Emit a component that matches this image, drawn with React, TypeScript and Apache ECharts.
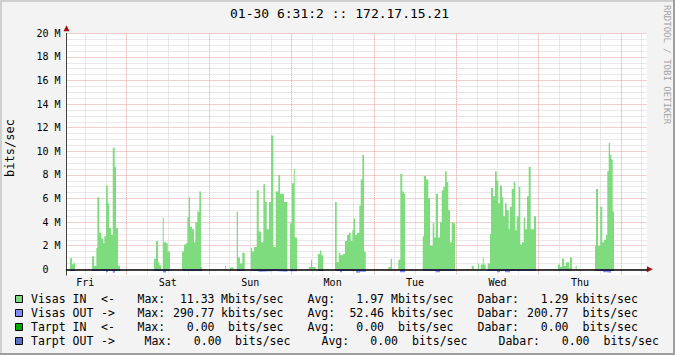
import { useEffect, useRef } from 'react';
import * as echarts from 'echarts';

const MONO = '"DejaVu Sans Mono", monospace';

const titleText = '01-30 6:31:2 :: 172.17.15.21';
const sideText = 'RRDTOOL / TOBI OETIKER';
const yAxisTitle = 'bits/sec';

// time axis in hours since Fri 00:00
const xStart = 6.52;
const xEnd = 175.5;
const dayNames = ['Fri', 'Sat', 'Sun', 'Mon', 'Tue', 'Wed', 'Thu'];
const dayLabelHours = [12, 36, 60, 84, 108, 132, 156];
const vGridHours = [12, 18, 24, 30, 36, 42, 48, 54, 60, 66, 72, 78, 84, 90, 96, 102, 108, 114, 120, 126, 132, 138, 144, 150, 156, 162, 168, 174];

// value axis in Mbits/sec
const yMin = -0.5;
const yMax = 20;
const yLabelValues = [0, 2, 4, 6, 8, 10, 12, 14, 16, 18, 20];
const yGridValues = [0, 0.5, 1, 1.5, 2, 2.5, 3, 3.5, 4, 4.5, 5, 5.5, 6, 6.5, 7, 7.5, 8, 8.5, 9, 9.5, 10, 10.5, 11, 11.5, 12, 12.5, 13, 13.5, 14, 14.5, 15, 15.5, 16, 16.5, 17, 17.5, 18, 18.5, 19, 19.5, 20];

// Visas IN  [hour, Mbit/s] (step start points)
const friIn: [number, number][] = [
  [7.55, 0.93], [8.13, 0.42], [8.72, 0.55], [9.01, 0],
  [13.96, 1.1], [14.54, 0.3], [15.21, 1.8], [15.5, 6.1], [16.08, 3.1], [16.66, 2.6], [17.25, 2.2], [17.54, 2.8],
  [18.03, 7.1], [18.53, 5.6], [18.91, 3.5], [19.49, 2.9], [19.98, 10.3], [20.56, 8.7], [20.94, 3.5], [21.53, 0.3], [22.11, 0],
];
const satIn: [number, number][] = [
  [32.01, 0.9], [32.59, 2.4], [33.17, 0.6], [33.55, 0.35], [34.04, 0], [34.54, 4.4], [34.83, 2.3], [35.5, 2.2], [35.99, 1.5], [36.66, 0],
  [40.16, 1.5], [40.74, 2.1], [41.32, 2.2], [41.7, 4.4], [42.11, 6.1], [42.49, 3.6], [43.07, 3.4], [43.65, 2.3], [44.03, 4.0],
  [44.61, 4.9], [45.19, 6.6], [45.69, 0.2], [45.98, 0],
];
const sunIn: [number, number][] = [
  [52.68, 0.3], [52.97, 0], [54.13, 0.15], [55.15, 0],
  [56.08, 4.9], [56.46, 1.0], [57.04, 0.5], [57.71, 1.4], [58.41, 0],
  [60.16, 1.8], [60.54, 1.5], [61.12, 1.9], [61.9, 6.7], [62.49, 3.2], [63.16, 2.3], [63.83, 7.2], [64.32, 5.7], [64.82, 3.4],
  [65.48, 5.7], [66.07, 11.33], [66.74, 1.9], [67.44, 6.6], [68.19, 8.0], [68.69, 6.4], [69.18, 6.4], [69.85, 5.7], [70.81, 0],
  [71.6, 3.9], [72.18, 7.3], [72.68, 8.5], [72.97, 2.7], [73.64, 0],
];
const monIn: [number, number][] = [
  [77.13, 0.2], [77.71, 0.8], [78.0, 0.2], [79.08, 0],
  [79.75, 1.3], [80.33, 1.6], [80.71, 1.2], [81.29, 0],
  [84.7, 5.7], [85.19, 0.6], [85.78, 1.4], [86.24, 1.2], [86.94, 1.3], [87.61, 2.4], [88.19, 2.9], [88.77, 3.1], [89.27, 2.4],
  [89.74, 3.3], [90.08, 4.3], [90.52, 2.9], [91.1, 3.1], [91.77, 5.4], [92.18, 7.6], [92.65, 9.7], [93.14, 1.5], [93.64, 0],
];
const tueIn: [number, number][] = [
  [100.22, 0.2], [100.91, 0.9], [101.29, 0],
  [103.13, 0.8], [103.71, 8.1], [104.29, 6.6], [104.7, 6.4], [105.08, 0],
  [110.23, 2.8], [110.61, 7.9], [111.19, 7.6], [111.86, 6.0], [112.36, 2.0], [113.14, 3.9], [113.61, 2.7], [114.1, 6.4],
  [114.68, 2.7], [115.27, 4.0], [115.76, 6.7], [116.23, 7.0], [116.72, 8.3], [117.22, 7.4], [117.68, 5.0], [118.18, 2.3],
  [118.67, 4.0], [119.14, 3.9], [119.63, 0],
];
const wedIn: [number, number][] = [
  [124.49, 0.3], [125.08, 0], [126.33, 0.5], [126.62, 0], [127.11, 0.4], [127.7, 1.0], [127.99, 0.4], [128.57, 0], [129.15, 0.5],
  [129.82, 3.0], [130.11, 6.9], [130.7, 6.2], [131.28, 8.3], [131.77, 7.5], [132.24, 5.6], [132.73, 7.1], [133.32, 6.1],
  [133.69, 4.5], [134.19, 5.6], [134.68, 5.0], [135.27, 3.4], [135.64, 5.3], [136.14, 6.8], [136.72, 7.4], [137.19, 3.3],
  [137.6, 4.5], [138.18, 7.0], [138.64, 2.1], [139.14, 2.3], [139.63, 4.4], [140.1, 3.4], [140.59, 6.2], [141.09, 8.7],
  [141.67, 3.4], [142.14, 3.4], [142.63, 4.5], [143.21, 0],
];
const thuIn: [number, number][] = [
  [149.62, 0.4], [150.2, 0.2], [150.78, 0.9], [151.37, 0.3], [151.95, 0.6], [152.82, 0.1], [153.11, 1.0], [153.69, 0],
  [154.77, 0.3], [155.06, 0],
  [160.39, 2.0], [160.68, 6.8], [161.26, 2.0], [161.93, 5.3], [162.51, 2.3], [163.01, 2.5], [163.59, 2.9], [163.97, 8.3],
  [164.38, 10.7], [164.76, 9.7], [165.14, 9.3], [165.54, 4.9], [165.92, 0],
];

// Visas OUT [hour, Mbit/s] drawn below zero
const friOut: [number, number][] = [
  [7.55, -0.15], [9.01, 0], [13.96, -0.15], [18.03, -0.25], [18.61, -0.15], [19.98, -0.29], [20.65, -0.15], [22.11, 0],
];
const satOut: [number, number][] = [
  [32.01, -0.15], [34.04, -0.08], [34.63, -0.28], [35.5, -0.15], [36.66, 0], [40.16, -0.15], [45.98, 0],
];
const sunOut: [number, number][] = [
  [56.08, -0.15], [58.5, 0], [60.16, -0.15], [61.9, -0.2], [62.86, -0.15], [67.23, -0.2], [70.81, 0], [71.6, -0.17], [73.64, 0],
];
const monOut: [number, number][] = [
  [79.75, -0.15], [81.29, 0], [84.7, -0.15], [86.15, -0.25], [86.74, -0.15], [90.81, -0.29], [91.98, -0.2], [93.72, 0],
];
const tueOut: [number, number][] = [
  [103.62, -0.25], [105.08, 0], [110.23, -0.15], [114.1, -0.25], [115.27, -0.15], [119.63, 0],
];
const wedOut: [number, number][] = [
  [129.15, -0.15], [131.86, -0.25], [132.73, -0.15], [134.19, -0.25], [135.64, -0.15], [143.21, 0],
];
const thuOut: [number, number][] = [
  [149.62, -0.08], [153.69, 0], [160.39, -0.15], [162.72, -0.25], [163.88, -0.29], [165.05, -0.15], [165.92, 0],
];

// legend texts
const legendNames = ['Visas IN', 'Visas OUT', 'Tarpt IN', 'Tarpt OUT'];
const legendArrows = ['<-', '->', '<-', '->'];
const legendColors = ['#7edb7e', '#7f8bff', '#00a800', '#5a72c8'];
const legendMax = ['11.33', '290.77', '0.00', '0.00'];
const legendMaxUnit = ['Mbits/sec', 'kbits/sec', ' bits/sec', ' bits/sec'];
const legendAvg = ['1.97', '52.46', '0.00', '0.00'];
const legendAvgUnit = ['Mbits/sec', 'kbits/sec', ' bits/sec', ' bits/sec'];
const legendCur = ['1.29', '200.77', '0.00', '0.00'];
const legendCurUnit = ['kbits/sec', ' bits/sec', ' bits/sec', ' bits/sec'];
const legendShift = [0, 0, 0, 7];

const GREEN = '#7edb7e';
const BLUE = '#7f8bff';
const MINOR = '#d2d2d2';
const MAJOR = '#e49c9c';
const ARROW = '#a01010';

export default function App() {
  const ref = useRef<HTMLDivElement>(null);

  useEffect(() => {
    document.body.style.margin = '0';
    const el = ref.current;
    if (!el) return;
    const chart = echarts.init(el, null, { renderer: 'svg' });

    const visasIn = [...friIn, ...satIn, ...sunIn, ...monIn, ...tueIn, ...wedIn, ...thuIn];
    const visasOut = [...friOut, ...satOut, ...sunOut, ...monOut, ...tueOut, ...wedOut, ...thuOut];

    const textStyle = (size: number, color = '#000') => ({ fontFamily: MONO, fontSize: size, fill: color });

    const graphic: any[] = [
      { type: 'rect', shape: { x: 0, y: 0, width: 675, height: 2 }, style: { fill: '#cfcfcf' }, silent: true },
      { type: 'rect', shape: { x: 0, y: 0, width: 2, height: 355 }, style: { fill: '#cfcfcf' }, silent: true },
      { type: 'rect', shape: { x: 0, y: 353, width: 675, height: 2 }, style: { fill: '#9e9e9e' }, silent: true },
      { type: 'rect', shape: { x: 673, y: 0, width: 2, height: 355 }, style: { fill: '#9e9e9e' }, silent: true },
      { type: 'text', x: 230, y: 13.5, silent: true, style: { ...textStyle(13), text: titleText, align: 'left', verticalAlign: 'middle' } },
      { type: 'text', x: 666.5, y: 5, rotation: -Math.PI / 2, silent: true, style: { ...textStyle(9, '#a4a4a4'), text: sideText, align: 'left', verticalAlign: 'middle' } },
      { type: 'text', x: 10, y: 148, rotation: Math.PI / 2, silent: true, style: { ...textStyle(12), text: yAxisTitle, align: 'center', verticalAlign: 'middle' } },
    ];

    const rowY = [299, 313, 327, 341];
    legendNames.forEach((name, i) => {
      const y = rowY[i];
      const s = legendShift[i];
      graphic.push({ type: 'rect', shape: { x: 15.5, y: y - 3.5, width: 7, height: 7 }, style: { fill: legendColors[i], stroke: '#000', lineWidth: 1 }, silent: true });
      const t = (text: string, x: number, align = 'left') => ({
        type: 'text', x, y, silent: true,
        style: { ...textStyle(11.5), text, align, verticalAlign: 'middle' },
      });
      const unit = (u: string, x: number) => (u.startsWith(' ') ? t(u.trim(), x + 7) : t(u, x));
      graphic.push(t(name, 31));
      graphic.push(t(legendArrows[i], 101));
      graphic.push(t('Max:', 137.5 + s));
      graphic.push(t(legendMax[i], 214.5 + s, 'right'));
      graphic.push(unit(legendMaxUnit[i], 221 + s));
      graphic.push(t('Avg:', 307.5 + 2 * s));
      graphic.push(t(legendAvg[i], 384 + 2 * s, 'right'));
      graphic.push(unit(legendAvgUnit[i], 391 + 2 * s));
      graphic.push(t('Dabar:', 477.5 + 3 * s));
      graphic.push(t(legendCur[i], 568.5 + 3 * s, 'right'));
      graphic.push(unit(legendCurUnit[i], 575.5 + 3 * s));
    });

    const option: any = {
      animation: false,
      backgroundColor: '#f3f3f3',
      grid: {
        left: 66.5, right: 28.1, top: 33.3, bottom: 79.8,
        show: true, backgroundColor: '#ffffff', borderWidth: 0,
        containLabel: false, outerBoundsMode: 'none',
      },
      xAxis: [
        {
          type: 'value', min: xStart, max: xEnd, position: 'bottom',
          axisLine: { show: false, onZero: false },
          axisTick: { show: false, customValues: vGridHours },
          axisLabel: {
            customValues: dayLabelHours,
            formatter: (v: number) => dayNames[Math.floor(v / 24)] ?? '',
            color: '#000', fontFamily: MONO, fontSize: 10, margin: 2,
            verticalAlign: 'top',
          },
          splitLine: { show: true, lineStyle: { color: [MINOR, MINOR, MAJOR, MINOR], type: 'dotted', width: 1 } },
        },
        {
          type: 'value', min: xStart, max: xEnd, position: 'bottom', z: 5,
          axisLine: { show: true, onZero: true, lineStyle: { color: '#000', width: 1.5 } },
          axisTick: { show: false }, axisLabel: { show: false }, splitLine: { show: false },
        },
      ],
      yAxis: {
        type: 'value', min: yMin, max: yMax,
        axisLine: { show: true, lineStyle: { color: '#444', width: 1 } },
        axisTick: { show: false, customValues: yGridValues },
        axisLabel: {
          customValues: yLabelValues,
          formatter: (v: number) => (v === 0 ? '0\u00a0\u00a0' : `${v} M`),
          color: '#000', fontFamily: MONO, fontSize: 10, margin: 6,
        },
        splitLine: { show: true, lineStyle: { color: [MAJOR, MINOR, MINOR, MINOR], type: 'dotted', width: 1 } },
      },
      series: [
        {
          type: 'line', name: 'Visas IN', data: visasIn, step: 'end', symbol: 'none', showSymbol: false,
          lineStyle: { width: 0, color: GREEN }, itemStyle: { color: GREEN },
          areaStyle: { color: GREEN, opacity: 1 }, silent: true,
        },
        {
          type: 'line', name: 'Visas OUT', data: visasOut, step: 'end', symbol: 'none', showSymbol: false,
          lineStyle: { width: 0, color: BLUE }, itemStyle: { color: BLUE },
          areaStyle: { color: BLUE, opacity: 1 }, silent: true,
          markPoint: {
            silent: true,
            label: { show: false },
            itemStyle: { color: ARROW },
            data: [
              { coord: [xStart, yMax], symbol: 'triangle', symbolSize: [6, 6], symbolOffset: [0, -5] },
              { coord: [xEnd, 0], symbol: 'triangle', symbolSize: [6, 6], symbolRotate: -90, symbolOffset: [3, 0] },
            ],
          },
        },
      ],
      graphic,
    };

    chart.setOption(option);
    return () => chart.dispose();
  }, []);

  return <div ref={ref} style={{ position: 'absolute', left: 0, top: 0, width: 675, height: 355 }} />;
}
